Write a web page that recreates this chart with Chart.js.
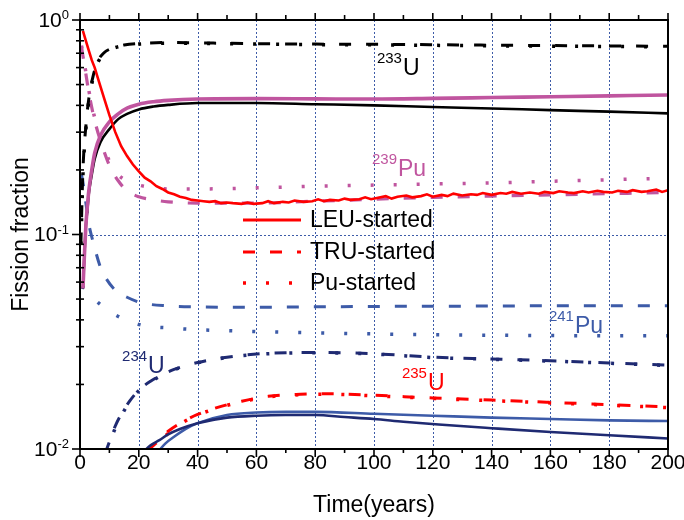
<!DOCTYPE html>
<html>
<head>
<meta charset="utf-8">
<script src="https://cdn.jsdelivr.net/npm/chart.js@4/dist/chart.umd.min.js"></script>
<style>
html,body{margin:0;padding:0;background:#fff;}
canvas{display:block;}
</style>
</head>
<body>
<canvas id="c" width="684" height="520"></canvas>
<script>
// ---------------- DATA (year, fission fraction) ----------------
const xTickLabels = [0, 20, 40, 60, 80, 100, 120, 140, 160, 180, 200];
const yTickValues = [1, 0.1, 0.01];
const yTickExponents = ['0', '-1', '-2'];
const legendLabels = ['LEU-started', 'TRU-started', 'Pu-started'];

// U-233
const u233_LEU = [[1,0.056],[1.5,0.08],[2,0.11],[2.5,0.13],[3,0.155],[4,0.19],[5,0.225],[7,0.27],[10,0.31],[13,0.345],[16,0.365],[20,0.383],[25,0.395],[30,0.402],[40,0.41],[60,0.41],[80,0.405],[100,0.4],[120,0.393],[140,0.387],[160,0.38],[180,0.374],[200,0.367]];
const u233_TRU = [[0.3,0.09],[1,0.2],[2,0.32],[3,0.43],[4.5,0.55],[6,0.64],[8,0.7],[11,0.74],[15,0.765],[22,0.78],[30,0.785],[40,0.782],[60,0.776],[80,0.772],[100,0.77],[120,0.767],[140,0.763],[160,0.76],[180,0.757],[200,0.754]];
const u233_Pu  = [[0.3,0.09],[1,0.19],[2,0.31],[3,0.42],[4.5,0.54],[6,0.63],[8,0.69],[11,0.735],[15,0.76],[22,0.775],[30,0.78],[40,0.778],[60,0.772],[80,0.768],[100,0.766],[120,0.762],[140,0.758],[160,0.755],[180,0.752],[200,0.75]];

// Pu-239
const pu239_LEU = [[1,0.056],[1.5,0.08],[2,0.11],[2.5,0.135],[3,0.16],[4,0.2],[5,0.24],[7,0.29],[10,0.335],[13,0.365],[16,0.388],[20,0.405],[25,0.416],[30,0.422],[40,0.428],[60,0.43],[80,0.429],[100,0.428],[120,0.431],[140,0.435],[160,0.439],[180,0.443],[200,0.447]];
const pu239_TRU = [[0.5,0.75],[1,0.68],[2,0.56],[3,0.46],[5,0.34],[7.5,0.26],[10,0.21],[13,0.178],[16,0.16],[20,0.15],[25,0.145],[30,0.142],[40,0.14],[60,0.14],[80,0.143],[100,0.146],[120,0.149],[140,0.151],[160,0.153],[180,0.155],[200,0.157]];
const pu239_Pu  = [[0.5,0.76],[1,0.69],[2,0.57],[3,0.47],[5,0.35],[7.5,0.27],[10,0.22],[13,0.19],[16,0.178],[20,0.17],[25,0.165],[30,0.163],[40,0.163],[60,0.165],[80,0.168],[100,0.17],[120,0.172],[140,0.174],[160,0.177],[180,0.18],[200,0.183]];

// U-235
const u235_LEU = [[1,0.89],[2,0.8],[3,0.72],[4,0.65],[5,0.6],[6,0.54],[8,0.44],[10,0.36],[12,0.3],[14,0.258],[16,0.232],[18,0.212],[20,0.197],[22,0.184],[24,0.177],[26,0.168],[28,0.163],[30,0.157],[32,0.154],[34,0.15],[36,0.148],[38,0.145],[40,0.144],[42,0.143],[44,0.142],[46,0.143],[48,0.14],[50,0.141],[52,0.14],[55,0.139],[57,0.141],[59,0.139],[62,0.14],[64,0.143],[66,0.14],[69,0.142],[71,0.141],[73,0.144],[76,0.142],[79,0.143],[81,0.146],[83,0.143],[85,0.145],[88,0.144],[90,0.147],[92,0.145],[95,0.146],[97,0.149],[99,0.146],[101,0.148],[104,0.151],[106,0.147],[108,0.15],[111,0.152],[113,0.149],[116,0.151],[118,0.154],[120,0.15],[123,0.153],[125,0.151],[127,0.155],[130,0.152],[133,0.154],[135,0.153],[137,0.156],[140,0.153],[143,0.156],[145,0.155],[147,0.158],[150,0.155],[153,0.157],[156,0.155],[158,0.158],[161,0.156],[163,0.159],[166,0.157],[168,0.156],[171,0.159],[173,0.157],[176,0.16],[178,0.158],[181,0.157],[183,0.16],[186,0.158],[188,0.161],[191,0.158],[193,0.159],[196,0.162],[198,0.158],[200,0.161]];
const u235_TRU = [[23,0.0098],[25,0.0104],[27,0.011],[30,0.0121],[35,0.0134],[40,0.0145],[48,0.0158],[55,0.0167],[64,0.0176],[75,0.018],[85,0.0181],[100,0.0178],[120,0.0173],[140,0.0169],[160,0.0165],[180,0.0161],[200,0.0157]];
const u235_Pu  = [[23.5,0.0098],[25.5,0.0104],[27.5,0.011],[30.5,0.012],[35,0.0133],[40,0.0144],[48,0.0157],[55,0.0166],[64,0.0175],[75,0.0179],[85,0.018],[100,0.0177],[120,0.0172],[140,0.0168],[160,0.0164],[180,0.016],[200,0.0156]];

// U-234
const u234_LEU = [[21.5,0.0097],[24,0.0104],[27,0.011],[30,0.0117],[34,0.0124],[40,0.0132],[50,0.014],[60,0.0143],[70,0.0144],[80,0.0144],[90,0.0141],[100,0.0138],[110,0.0134],[122,0.013],[140,0.0125],[160,0.012],[180,0.0116],[200,0.0112]];
const u234_TRU = [[8.5,0.0095],[10,0.0108],[12,0.0128],[14,0.0145],[17,0.0168],[20,0.0188],[24,0.0207],[28,0.0222],[32,0.0235],[40,0.0253],[50,0.0268],[60,0.0277],[70,0.0281],[80,0.0282],[100,0.0278],[120,0.0268],[140,0.0263],[160,0.0258],[180,0.0252],[200,0.0246]];
const u234_Pu  = [[8.7,0.0095],[10.2,0.0108],[12.2,0.0127],[14.2,0.0144],[17,0.0167],[20,0.0187],[24,0.0206],[28,0.0221],[32,0.0234],[40,0.0252],[50,0.0267],[60,0.0276],[70,0.028],[80,0.0281],[100,0.0277],[120,0.0267],[140,0.0262],[160,0.0257],[180,0.0251],[200,0.0245]];

// Pu-241
const pu241_LEU = [[26.5,0.0097],[29,0.0106],[32,0.0114],[36,0.0124],[40,0.0132],[50,0.0144],[60,0.0148],[70,0.0149],[80,0.0149],[100,0.0146],[120,0.0143],[140,0.014],[160,0.0138],[180,0.0136],[200,0.0135]];
const pu241_TRU = [[0.5,0.19],[1,0.175],[2,0.14],[3,0.112],[4.5,0.092],[7,0.07],[9,0.062],[12,0.055],[16,0.051],[21,0.048],[30,0.0465],[40,0.046],[60,0.0458],[80,0.046],[100,0.0462],[120,0.0463],[140,0.0464],[160,0.0465],[180,0.0465],[200,0.0465]];
const pu241_Pu  = [[0.5,0.057],[3,0.055],[5,0.05],[8,0.046],[11,0.043],[15,0.0403],[22,0.0375],[30,0.0367],[40,0.036],[60,0.0353],[80,0.0348],[100,0.0344],[120,0.0341],[140,0.0339],[160,0.0338],[180,0.0337],[200,0.0337]];

// Nuclide labels: [sup, main, year, value, colour]
const nuclideLabels = [
  ['233', 'U', 101, 0.554, '#000000'],
  ['239', 'Pu', 99.3, 0.1874, '#c0559f'],
  ['241', 'Pu', 159.5, 0.0347, '#3d5ba8'],
  ['234', 'U', 14.3, 0.0226, '#1f2a72'],
  ['235', 'U', 109.5, 0.0188, '#ff0000']
];

// ---------------- STYLE ----------------
const RED = '#ff0000', BLACK = '#000000', MAG = '#c0559f', BLUE = '#3d5ba8', NAVY = '#1f2a72';
const DASH = [12, 15], DOT = [3, 20];
const FONT = '"Liberation Sans", Arial, sans-serif';

function ds(data, color, width, dash, interp) {
  return {
    data: data.map(p => ({x: p[0], y: p[1]})),
    borderColor: color, backgroundColor: color,
    borderWidth: width, borderDash: dash || [],
    pointRadius: 0, fill: false,
    cubicInterpolationMode: interp || 'monotone',
    tension: 0,
    clip: 0
  };
}

const datasets = [
  ds(u235_LEU, RED, 2.6, [], 'default'),
  ds(pu239_LEU, MAG, 3.6),
  ds(u233_LEU, BLACK, 2.6),
  ds(u234_LEU, NAVY, 2.6),
  ds(pu241_LEU, BLUE, 2.6),
  ds(u233_TRU, BLACK, 3, DASH),
  ds(u233_Pu, BLACK, 3.5, DOT),
  ds(pu239_TRU, MAG, 3.2, DASH),
  ds(pu239_Pu, MAG, 3.5, DOT),
  ds(u235_TRU, RED, 3, DASH),
  ds(u235_Pu, RED, 3.5, DOT),
  ds(u234_TRU, NAVY, 3, DASH),
  ds(u234_Pu, NAVY, 3.5, DOT),
  ds(pu241_TRU, BLUE, 3, DASH),
  ds(pu241_Pu, BLUE, 3.5, DOT)
];

function line(ctx, x1, y1, x2, y2) { ctx.beginPath(); ctx.moveTo(x1, y1); ctx.lineTo(x2, y2); ctx.stroke(); }

const decor = {
  id: 'decor',
  beforeDatasetsDraw(chart) {
    const {ctx, chartArea: a, scales: {x, y}} = chart;
    ctx.save();
    ctx.strokeStyle = BLUE; ctx.lineWidth = 1; ctx.setLineDash([2, 2]);
    for (const v of xTickLabels) {
      if (v === 0 || v === 200) continue;
      const px = Math.round(x.getPixelForValue(v)) + 0.5;
      line(ctx, px, a.top, px, a.bottom);
    }
    const py = Math.round(y.getPixelForValue(0.1)) + 0.5;
    line(ctx, a.left, py, a.right, py);
    ctx.restore();
  },
  afterDatasetsDraw(chart) {
    const {ctx, chartArea: a, scales: {x, y}} = chart;
    ctx.save();
    // frame
    ctx.strokeStyle = '#000'; ctx.lineWidth = 2; ctx.setLineDash([]);
    ctx.strokeRect(a.left, a.top, a.right - a.left, a.bottom - a.top);
    // x ticks
    ctx.lineWidth = 1.6;
    for (let v = 0; v <= 200; v += 10) {
      const px = x.getPixelForValue(v);
      const major = v % 20 === 0;
      line(ctx, px, a.bottom, px, a.bottom + (major ? 8 : 4));
      line(ctx, px, a.top, px, a.top - (major ? 7 : 5));
    }
    // y ticks
    for (let d = -2; d <= 0; d++) {
      for (let m = 1; m <= 9; m++) {
        const v = m * Math.pow(10, d);
        if (v > 1.0001) break;
        const p = y.getPixelForValue(v);
        if (m === 1) line(ctx, a.left - 8, p, a.left, p);
        else line(ctx, a.left - 4, p, a.left + 4, p);
      }
    }
    // x tick labels
    ctx.fillStyle = '#000';
    ctx.font = '21px ' + FONT;
    ctx.textAlign = 'center'; ctx.textBaseline = 'middle';
    for (const v of xTickLabels) ctx.fillText(String(v), x.getPixelForValue(v), a.bottom + 14);
    // y tick labels 10^n
    yTickValues.forEach((v, i) => {
      const p = y.getPixelForValue(v);
      ctx.font = '21px ' + FONT;
      const wBase = ctx.measureText('10').width;
      ctx.font = '13px ' + FONT;
      const wExp = ctx.measureText(yTickExponents[i]).width;
      const right = a.left - 11;
      const left = right - wBase - wExp;
      ctx.textAlign = 'left'; ctx.textBaseline = 'middle';
      ctx.font = '21px ' + FONT;
      ctx.fillText('10', left, p + 1);
      ctx.font = '13px ' + FONT;
      ctx.textBaseline = 'alphabetic';
      ctx.fillText(yTickExponents[i], left + wBase, p - 1);
    });
    // axis titles
    ctx.font = '23px ' + FONT;
    ctx.textAlign = 'center'; ctx.textBaseline = 'middle';
    ctx.fillText('Time(years)', (a.left + a.right) / 2, 506);
    ctx.save();
    ctx.translate(22, (a.top + a.bottom) / 2);
    ctx.rotate(-Math.PI / 2);
    ctx.fillText('Fission fraction', 0, 0);
    ctx.restore();
    // nuclide labels
    for (const [sup, main, yr, val, col] of nuclideLabels) {
      const px = x.getPixelForValue(yr), pyv = y.getPixelForValue(val);
      ctx.fillStyle = col; ctx.textAlign = 'left'; ctx.textBaseline = 'alphabetic';
      ctx.font = '15px ' + FONT;
      ctx.fillText(sup, px, pyv - 12);
      const w = ctx.measureText(sup).width;
      ctx.font = '23px ' + FONT;
      ctx.fillText(main, px + w + 1, pyv);
    }
    // legend
    const rows = [220, 252, 283];
    const dashes = [[], DASH, DOT];
    const widths = [2.8, 3, 3.5];
    rows.forEach((ry, i) => {
      ctx.strokeStyle = RED; ctx.lineWidth = widths[i]; ctx.setLineDash(dashes[i]); ctx.lineCap = 'butt';
      line(ctx, 243, ry, 301, ry);
      ctx.setLineDash([]);
      ctx.fillStyle = '#000'; ctx.font = '23px ' + FONT; ctx.textAlign = 'left'; ctx.textBaseline = 'middle';
      ctx.fillText(legendLabels[i], 310, ry + 1);
    });
    ctx.restore();
  }
};

new Chart(document.getElementById('c'), {
  type: 'line',
  data: {datasets},
  options: {
    responsive: false, animation: false, devicePixelRatio: 1,
    layout: {padding: {left: 0, right: 16, top: 20, bottom: 0}},
    plugins: {legend: {display: false}, tooltip: {enabled: false}},
    scales: {
      x: {type: 'linear', min: 0, max: 200, grid: {display: false}, border: {display: false},
          ticks: {display: false}, afterFit(s) { s.height = 71; }},
      y: {type: 'logarithmic', min: 0.01, max: 1, grid: {display: false}, border: {display: false},
          ticks: {display: false}, afterFit(s) { s.width = 80; }}
    }
  },
  plugins: [decor]
});
</script>
</body>
</html>
